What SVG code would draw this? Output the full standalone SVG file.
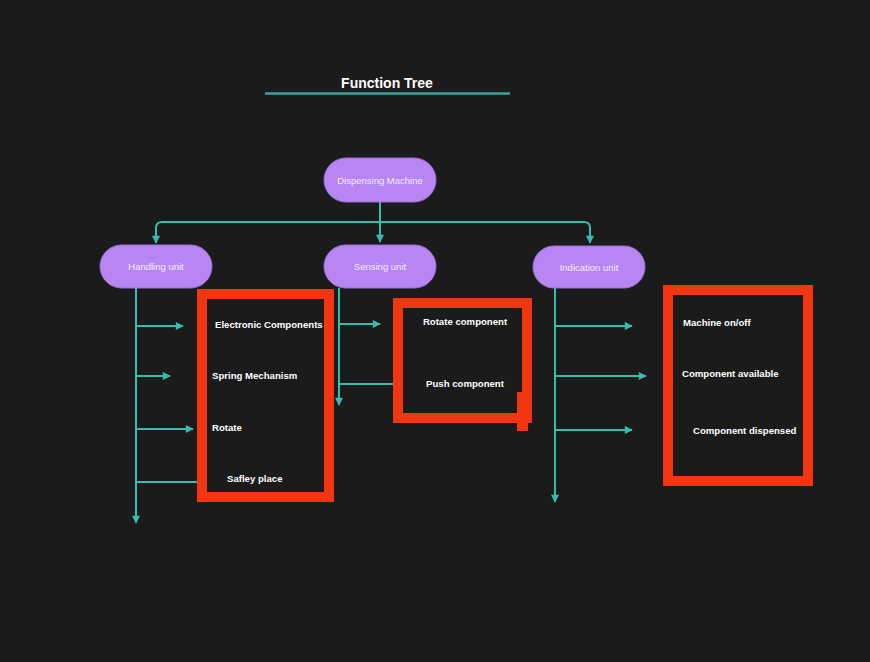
<svg xmlns="http://www.w3.org/2000/svg" width="870" height="662" viewBox="0 0 870 662">
  <defs>
    <marker id="arrow" viewBox="0 0 10 10" refX="9" refY="5" markerWidth="10" markerHeight="8" markerUnits="userSpaceOnUse" orient="auto">
      <path d="M0,0 L10,5 L0,10 z" fill="#36bdae"/>
    </marker>
    <style>
      .bg { fill: #1b1b1b; }
      .title { font-family: "Liberation Sans", Arial, sans-serif; font-size: 14px; font-weight: bold; fill: #ffffff; }
      .pill { fill: #b886f2; stroke: #9d6fd8; stroke-width: 1; }
      .pill-text { font-family: "Liberation Sans", Arial, sans-serif; font-size: 9.5px; fill: #f4ecff; text-anchor: middle; dominant-baseline: central; }
      .edge { fill: none; stroke: #36bdae; stroke-width: 2; }
      .frame { fill: none; stroke: #f2360f; stroke-width: 10; }
      .tab { fill: #f2360f; }
      .label { font-family: "Liberation Sans", Arial, sans-serif; font-size: 9.6px; font-weight: bold; fill: #ffffff; dominant-baseline: central; }
    </style>
  </defs>

  <rect class="bg" x="0" y="0" width="870" height="662"/>

  <!-- heading -->
  <g id="title">
    <text class="title" x="387" y="88" text-anchor="middle">Function Tree</text>
    <line x1="265" y1="93.5" x2="510" y2="93.5" stroke="#3aa597" stroke-width="2.5"/>
  </g>

  <!-- connectors -->
  <g id="connectors">
    <!-- root to units -->
    <path class="edge" d="M380,202 V242" marker-end="url(#arrow)"/>
    <path class="edge" d="M380,222 H162 Q156,222 156,228 V243" marker-end="url(#arrow)"/>
    <path class="edge" d="M380,222 H584 Q590,222 590,228 V243" marker-end="url(#arrow)"/>

    <!-- handling unit branch -->
    <path class="edge" d="M136,288 V523" marker-end="url(#arrow)"/>
    <path class="edge" d="M136,326 H183" marker-end="url(#arrow)"/>
    <path class="edge" d="M136,376 H170" marker-end="url(#arrow)"/>
    <path class="edge" d="M136,429 H193" marker-end="url(#arrow)"/>
    <path class="edge" d="M136,482 H197"/>

    <!-- sensing unit branch -->
    <path class="edge" d="M339,288 V405" marker-end="url(#arrow)"/>
    <path class="edge" d="M339,324 H380" marker-end="url(#arrow)"/>
    <path class="edge" d="M339,384 H393"/>

    <!-- indication unit branch -->
    <path class="edge" d="M555,288 V502" marker-end="url(#arrow)"/>
    <path class="edge" d="M555,326 H632" marker-end="url(#arrow)"/>
    <path class="edge" d="M555,376 H646" marker-end="url(#arrow)"/>
    <path class="edge" d="M555,430 H632" marker-end="url(#arrow)"/>
  </g>

  <!-- unit nodes -->
  <g id="dispensing-machine">
    <rect class="pill" x="324" y="158" width="112" height="44" rx="22"/>
    <text class="pill-text" x="380" y="180">Dispensing Machine</text>
  </g>
  <g id="handling-unit">
    <rect class="pill" x="100" y="245" width="112" height="43" rx="21.5"/>
    <text class="pill-text" x="156" y="266.5">Handling unit</text>
  </g>
  <g id="sensing-unit">
    <rect class="pill" x="324" y="245" width="112" height="43" rx="21.5"/>
    <text class="pill-text" x="380" y="266.5">Sensing unit</text>
  </g>
  <g id="indication-unit">
    <rect class="pill" x="533" y="246" width="112" height="42" rx="21"/>
    <text class="pill-text" x="589" y="267">Indication unit</text>
  </g>

  <!-- function groups -->
  <g id="handling-functions">
    <rect class="frame" x="202" y="294" width="127" height="203"/>
    <text class="label" x="215" y="324">Electronic Components</text>
    <text class="label" x="212" y="375">Spring Mechanism</text>
    <text class="label" x="212" y="427">Rotate</text>
    <text class="label" x="227" y="478">Safley place</text>
  </g>
  <g id="sensing-functions">
    <rect class="frame" x="398" y="303" width="129" height="115"/>
    <rect class="tab" x="517" y="392" width="11" height="39"/>
    <text class="label" x="465" y="321" text-anchor="middle">Rotate component</text>
    <text class="label" x="465" y="383" text-anchor="middle">Push component</text>
  </g>
  <g id="indication-functions">
    <rect class="frame" x="668" y="290" width="140" height="191"/>
    <text class="label" x="683" y="322">Machine on/off</text>
    <text class="label" x="682" y="373">Component available</text>
    <text class="label" x="693" y="430">Component dispensed</text>
  </g>
</svg>
